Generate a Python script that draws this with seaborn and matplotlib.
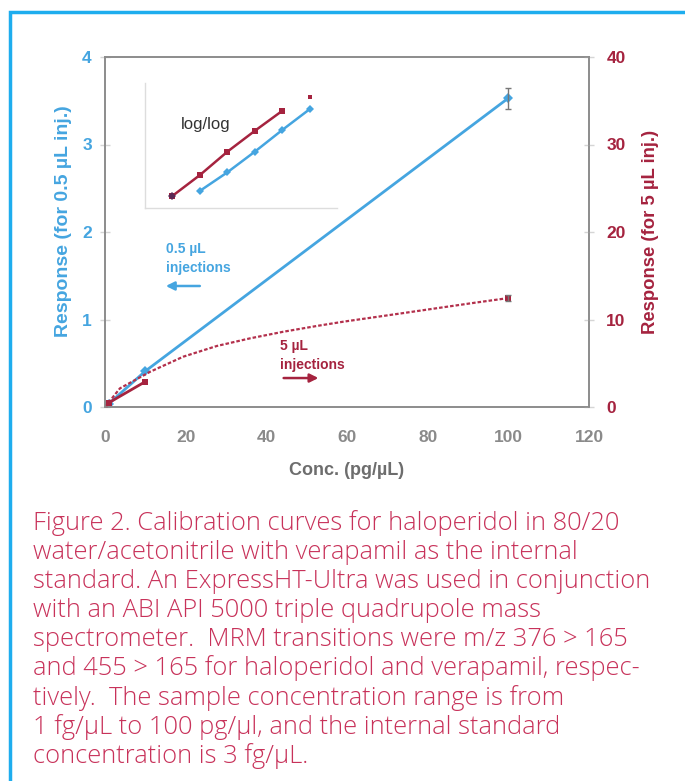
import matplotlib
matplotlib.use("Agg")
import matplotlib.pyplot as plt
import seaborn as sns
from matplotlib.patches import Rectangle

# main calibration data (conc in pg/uL)
conc = [0, 1, 10, 100]
blue_resp = [0, 0.04, 0.41, 3.53]       # 0.5 uL injections, left axis
blue_err = 0.12
red_resp = [0, 0.5, 2.9, 12.5]          # 5 uL injections, right axis
red_err = 0.35

# dotted trend line for 5 uL
fit_conc = [0, 3.7, 11.2, 19.4, 27.7, 36, 44.2, 52.5, 59.1, 67.4, 75.7, 83.9, 92.2, 100]
fit_resp = [0, 2.13, 4.03, 5.75, 6.97, 7.85, 8.6, 9.26, 9.75, 10.3, 10.85, 11.4, 11.95, 12.45]

# inset log/log values
inset_red_x = [-3, -2, -1, 0, 1, 2]
inset_red_y = [-3.66, -2.66, -1.54, -0.54, 0.42, 1.10]
inset_blue_x = [-2, -1, 0, 1, 2]
inset_blue_y = [-3.42, -2.53, -1.54, -0.50, 0.50]

caption = [
    "Figure 2. Calibration curves for haloperidol in 80/20",
    "water/acetonitrile with verapamil as the internal",
    "standard. An ExpressHT-Ultra was used in conjunction",
    "with an ABI API 5000 triple quadrupole mass",
    "spectrometer.  MRM transitions were m/z 376 > 165",
    "and 455 > 165 for haloperidol and verapamil, respec-",
    "tively.  The sample concentration range is from",
    "1 fg/\u00b5L to 100 pg/\u00b5l, and the internal standard",
    "concentration is 3 fg/\u00b5L.",
]

BLUE = "#45a5e0"
RED = "#a5233f"
GRAY = "#8a8a8a"
CAP = "#c8325a"

sns.set_style("white")
plt.rcParams["font.family"] = ["Liberation Sans", "DejaVu Sans"]

W, H = 685, 781
fig = plt.figure(figsize=(6.85, 7.81), dpi=100)

# blue frame
fig.patches.append(Rectangle((10 / W, -0.1), 1.2, (H - 12) / H + 0.1, transform=fig.transFigure,
                             fill=False, edgecolor="#1eadee", lw=2.5, clip_on=False))

ax = fig.add_axes([105 / W, 1 - 407 / H, 484 / W, 350 / H])
ax2 = ax.twinx()

sns.lineplot(x=conc, y=blue_resp, ax=ax, color=BLUE, lw=2, marker="D", markersize=5,
             markeredgewidth=0, estimator=None, sort=False)
ax.errorbar(conc[-1], blue_resp[-1], yerr=blue_err, fmt="none", ecolor="#777777",
            capsize=2.5, elinewidth=1)

sns.lineplot(x=fit_conc, y=fit_resp, ax=ax2, color="#b3304c", lw=1.6, linestyle=(0, (1.6, 0.9)),
             estimator=None, sort=False)
sns.lineplot(x=conc[:3], y=red_resp[:3], ax=ax2, color=RED, lw=2, marker="s", markersize=5,
             markeredgewidth=0, estimator=None, sort=False)
ax2.plot(conc[-1], red_resp[-1], "s", color=RED, markersize=5, markeredgewidth=0)
ax2.errorbar(conc[-1], red_resp[-1], yerr=red_err, fmt="none", ecolor="#777777",
             capsize=2.5, elinewidth=1)

ax.set_xlim(0, 120)
ax.set_ylim(0, 4)
ax2.set_ylim(0, 40)
ax.set_xticks(range(0, 121, 20))
ax.set_yticks(range(0, 5))
ax2.set_yticks(range(0, 41, 10))

for a in (ax, ax2):
    for s in a.spines.values():
        s.set_color("#8c8c8c")
        s.set_linewidth(1.2)
    a.tick_params(direction="inout", length=7, width=1, color="#d5d5d5")

ax.tick_params(axis="x", labelcolor=GRAY, labelsize=12.5, pad=13)
ax.tick_params(axis="y", labelcolor=BLUE, labelsize=12.5, pad=6)
ax2.tick_params(axis="y", labelcolor=RED, labelsize=12.5, pad=9)
for lab in ax.get_xticklabels() + ax.get_yticklabels() + ax2.get_yticklabels():
    lab.set_fontweight("bold")

ax.set_xlabel("Conc. (pg/\u00b5L)", color="#6d6d6d", fontsize=13, fontweight="bold", labelpad=12)
ax.set_ylabel("Response (for 0.5 \u00b5L inj.)", color=BLUE, fontsize=14, fontweight="bold")
ax.yaxis.set_label_coords(-33 / 484, 0.53)
ax2.set_ylabel("Response (for 5 \u00b5L inj.)", color=RED, fontsize=13.3, fontweight="bold", labelpad=12)

# annotations
ax.text(15.1, 1.70, "0.5 \u00b5L\ninjections", color=BLUE, fontsize=10, fontweight="bold",
        va="center", ha="left", linespacing=1.45)
ax.annotate("", xy=(14.4, 1.383), xytext=(24.2, 1.383),
            arrowprops=dict(arrowstyle="-|>,head_length=0.5,head_width=0.25", color=BLUE, lw=1.8))
ax.text(43.4, 0.594, "5 \u00b5L\ninjections", color=RED, fontsize=10, fontweight="bold",
        va="center", ha="left", linespacing=1.45)
ax.annotate("", xy=(53.6, 0.331), xytext=(43.6, 0.331),
            arrowprops=dict(arrowstyle="-|>,head_length=0.5,head_width=0.25", color=RED, lw=1.8))

# inset
ins = fig.add_axes([145 / W, 1 - 208 / H, 192 / W, 125 / H])
ins.set_facecolor("none")
sns.lineplot(x=inset_red_x[:5], y=inset_red_y[:5], ax=ins, color=RED, lw=1.8, marker="s",
             markersize=4, markeredgewidth=0, estimator=None, sort=False)
ins.plot(inset_red_x[-1], inset_red_y[-1], "s", color=RED, markersize=3.5, markeredgewidth=0)
sns.lineplot(x=inset_blue_x, y=inset_blue_y, ax=ins, color=BLUE, lw=1.8, marker="D",
             markersize=4, markeredgewidth=0, estimator=None, sort=False)
ins.plot(inset_red_x[0], inset_red_y[0], "D", color="#5a2a55", markersize=4, markeredgewidth=0)
ins.set_xlim(-4, 3)
ins.set_ylim(-4.24, 1.76)
ins.set_xticks(range(-4, 4))
ins.set_yticks([-4.24 + i for i in range(7)])
ins.tick_params(direction="in", length=3, color="#e2e2e2", labelleft=False, labelbottom=False)
for k in ("top", "right"):
    ins.spines[k].set_visible(False)
for k in ("left", "bottom"):
    ins.spines[k].set_color("#dddddd")
    ins.spines[k].set_linewidth(1)
fig.text(181 / W, 1 - 125 / H, "log/log", color="#333333", fontsize=12, va="center", ha="left")

# caption
for i, line in enumerate(caption):
    fig.text(33 / W, 1 - (523 + 29.1 * i) / H, line, color=CAP, fontsize=18.4,
             family=["Open Sans", "Liberation Sans", "DejaVu Sans"], fontweight="light",
             va="center", ha="left")

fig.savefig("out.png", dpi=100)
